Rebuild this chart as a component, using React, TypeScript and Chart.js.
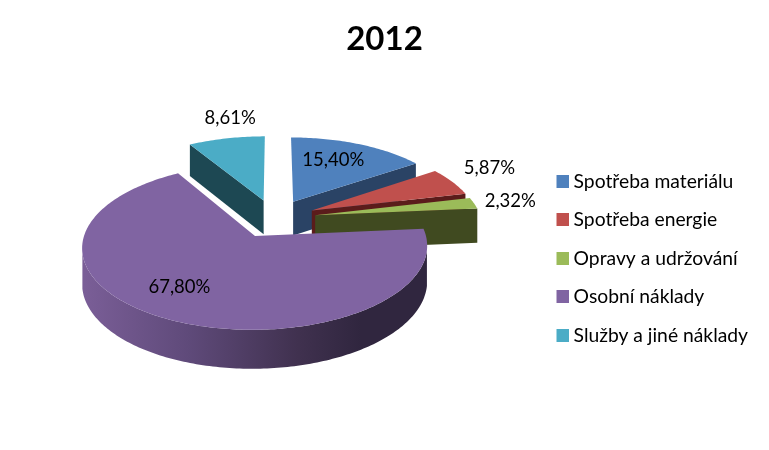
import React, { useEffect, useRef } from "react";
import { Chart, registerables } from "chart.js";

Chart.register(...registerables);

const categories = ["Spotřeba materiálu", "Spotřeba energie", "Opravy a udržování", "Osobní náklady", "Služby a jiné náklady"];
const shares = [15.4, 5.87, 2.32, 67.8, 8.61];
const shareLabels = ["15,40%", "5,87%", "2,32%", "67,80%", "8,61%"];
const chartTitle = "2012";
const topColors = ["#4f81bd", "#c0504d", "#9bbb59", "#8064a2", "#4bacc6"];
const faceColors = ["#2a4365", "#5b1c1b", "#404a20", "#30263f", "#1d4853"];
const labelAngles = [24.2, 62.8, 81.2, 214.4, 349.2];
const labelRadii = [0.676, 1.334, 1.231, 0.706, 1.354];
const drawOrder = [4, 0, 1, 2, 3];

const FONT = "Lato";
const EXPLODE = 0.25;
const PERSP = 0.13;
const SCALE = 166;
const TILT = 0.462;
const WALL = 34.5;
const LIFT = -40;
const SHIFT_X = 3;

// Legend swatch: a 13px square pushed right inside a wider image, so it sits closer to its text.
const swatch = (color: string) => {
  const c = document.createElement("canvas");
  c.width = 24;
  c.height = 13;
  const g = c.getContext("2d") as CanvasRenderingContext2D;
  g.fillStyle = color;
  g.fillRect(11, 0, 13, 13);
  return c;
};

const pie3d = {
  id: "pie3d",
  beforeDatasetsDraw(chart: any) {
    const ctx = chart.ctx as CanvasRenderingContext2D;
    const arcs = chart.getDatasetMeta(0).data as any[];
    const cx = arcs[0].x + SHIFT_X;
    const cy = arcs[0].y + LIFT;
    const project = (wx: number, wy: number, down: boolean): [number, number] => {
      const w = 1 + PERSP * wy;
      const drop = down ? WALL / Math.pow(w, 0.7) : 0;
      return [cx + (wx * SCALE) / w, cy - (wy * TILT * SCALE) / w + drop];
    };
    const fillPoly = (pts: number[][], fill: any) => {
      ctx.beginPath();
      pts.forEach((p, k) => (k ? ctx.lineTo(p[0], p[1]) : ctx.moveTo(p[0], p[1])));
      ctx.closePath();
      ctx.fillStyle = fill;
      ctx.fill();
    };
    const wallGradient = ctx.createLinearGradient(cx - 190, 0, cx + 155, 0);
    wallGradient.addColorStop(0, "#7a5e97");
    wallGradient.addColorStop(0.3, "#5f4a7a");
    wallGradient.addColorStop(0.62, "#40314f");
    wallGradient.addColorStop(0.8, "#30263f");
    wallGradient.addColorStop(1, "#30263f");

    for (const i of drawOrder) {
      const el = arcs[i];
      const a0 = el.startAngle + Math.PI / 2;
      const a1 = el.endAngle + Math.PI / 2;
      const mid = (a0 + a1) / 2;
      const tx = Math.sin(mid) * EXPLODE;
      const ty = Math.cos(mid) * EXPLODE;
      const world: [number, number][] = [[tx, ty]];
      const steps = Math.max(2, Math.ceil(((a1 - a0) * 180) / Math.PI));
      for (let s = 0; s <= steps; s++) {
        const t = a0 + ((a1 - a0) * s) / steps;
        world.push([tx + Math.sin(t), ty + Math.cos(t)]);
      }
      const top = world.map((p) => project(p[0], p[1], false));
      const bottom = world.map((p) => project(p[0], p[1], true));
      const n = world.length;
      const rimTop: number[][] = [];
      const rimBottom: number[][] = [];
      for (let k = 0; k < n; k++) {
        const next = (k + 1) % n;
        const dx = top[next][0] - top[k][0];
        const dy = top[next][1] - top[k][1];
        if (dx >= -0.1 * Math.abs(dy)) continue;
        if (k === 0 || next === 0) {
          fillPoly([top[k], top[next], bottom[next], bottom[k]], faceColors[i]);
        } else {
          if (!rimTop.length) {
            rimTop.push(top[k]);
            rimBottom.push(bottom[k]);
          }
          rimTop.push(top[next]);
          rimBottom.push(bottom[next]);
        }
      }
      if (rimTop.length) {
        fillPoly([...rimTop, ...rimBottom.reverse()], i === 3 ? wallGradient : faceColors[i]);
      }
      fillPoly(top, topColors[i]);
    }

    ctx.fillStyle = "#000000";
    ctx.font = `18.5px ${FONT}`;
    ctx.textAlign = "center";
    ctx.textBaseline = "middle";
    arcs.forEach((el, i) => {
      const mid = (el.startAngle + el.endAngle) / 2 + Math.PI / 2;
      const t = (labelAngles[i] * Math.PI) / 180;
      const p = project(
        Math.sin(mid) * EXPLODE + Math.sin(t) * labelRadii[i],
        Math.cos(mid) * EXPLODE + Math.cos(t) * labelRadii[i],
        false
      );
      ctx.fillText(shareLabels[i], p[0], p[1]);
    });
    return false;
  },
};

export default function App() {
  const ref = useRef<HTMLCanvasElement>(null);
  useEffect(() => {
    const chart = new Chart(ref.current as HTMLCanvasElement, {
      type: "pie",
      data: {
        labels: categories,
        datasets: [{ data: shares, backgroundColor: topColors, borderWidth: 0 }],
      },
      options: {
        animation: false,
        responsive: false,
        devicePixelRatio: 1,
        layout: { padding: { left: 11, right: 11 } },
        plugins: {
          title: {
            display: true,
            text: chartTitle,
            color: "#000000",
            font: { family: FONT, size: 33, weight: "bold" },
            padding: { top: 20, bottom: 7 },
          },
          legend: {
            position: "right",
            fullSize: false,
            labels: {
              color: "#000000",
              font: { family: FONT, size: 19.3 },
              usePointStyle: true,
              pointStyleWidth: 13,
              boxHeight: 13,
              padding: 19.2,
              generateLabels: (c: any) =>
                Chart.overrides.pie.plugins.legend.labels
                  .generateLabels(c)
                  .map((item: any, i: number) => ({ ...item, pointStyle: swatch(topColors[i]) })),
            },
          },
          tooltip: { enabled: false },
        },
      },
      plugins: [pie3d],
    } as any);
    return () => chart.destroy();
  }, []);
  return (
    <div style={{ position: "absolute", left: 0, top: 0, width: 769, height: 450, background: "#ffffff" }}>
      <canvas ref={ref} width={769} height={450} style={{ display: "block" }} />
    </div>
  );
}
